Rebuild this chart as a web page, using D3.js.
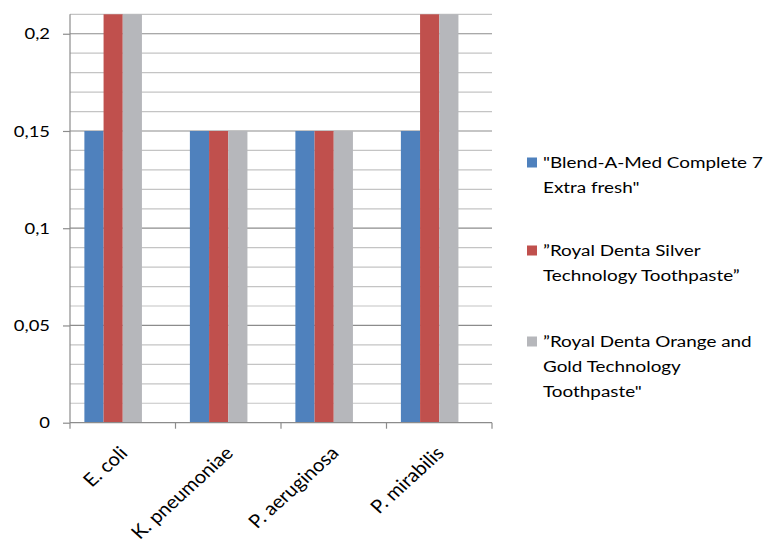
<!DOCTYPE html>
<html>
<head>
<meta charset="utf-8">
<script src="https://cdn.jsdelivr.net/npm/d3@7"></script>
<style>
  html, body { margin: 0; padding: 0; background: #fff; }
  svg { display: block; font-family: Lato, "Open Sans", sans-serif; }
</style>
</head>
<body>
<svg id="chart" width="765" height="539"></svg>
<script>
// Bacteria tested
const categories = ["E. coli", "K. pneumoniae", "P. aeruginosa", "P. mirabilis"];

// Legend text, wrapped lines per toothpaste
const legendLines = [
  ["\"Blend-A-Med Complete 7", "Extra fresh\""],
  ["\u201DRoyal Denta Silver", "Technology Toothpaste\u201D"],
  ["\u201DRoyal Denta Orange and", "Gold Technology", "Toothpaste\""]
];

// Values per toothpaste, one per bacterium
const blendAMed = [0.15, 0.15, 0.15, 0.15];
const silver    = [0.21, 0.15, 0.15, 0.21];
const orangeGold = [0.21, 0.15, 0.15, 0.21];
const seriesValues = [blendAMed, silver, orangeGold];

const colors = ["#4F81BD", "#C0504D", "#B6B7BB"];

// Axis ticks
const yMax = 0.21;
const majorTicks = [0, 0.05, 0.1, 0.15, 0.2];
const minorTicks = d3.range(0, 22).map(i => +(i * 0.01).toFixed(2));

const svg = d3.select("#chart");
const plot = { left: 70, right: 492, top: 14.3, bottom: 422.7 };
const stretch = 1.15; // text is drawn slightly wide

const x = d3.scaleBand().domain(categories).range([plot.left, plot.right]).padding(0);
const bw = x.bandwidth();
const x1 = d3.scaleBand().domain(d3.range(seriesValues.length))
  .range([0, bw]).paddingInner(0).paddingOuter(1.25).align(0.3);
const y = d3.scaleLinear().domain([0, yMax]).range([plot.bottom, plot.top]);

// Minor gridlines
svg.append("g").selectAll("line").data(minorTicks.filter(t => !majorTicks.includes(t)))
  .join("line")
  .attr("x1", plot.left).attr("x2", plot.right)
  .attr("y1", d => y(d)).attr("y2", d => y(d))
  .attr("stroke", "#c4c4c4").attr("stroke-width", 1.2);

// Major gridlines
svg.append("g").selectAll("line").data(majorTicks.filter(t => t > 0))
  .join("line")
  .attr("x1", plot.left).attr("x2", plot.right)
  .attr("y1", d => y(d)).attr("y2", d => y(d))
  .attr("stroke", "#8c8c8c").attr("stroke-width", 1.2);

// Bars
const groups = svg.append("g").selectAll("g").data(seriesValues).join("g")
  .attr("fill", (d, i) => colors[i]);
groups.selectAll("rect").data((vals, si) => vals.map((v, ci) => ({ v, si, ci })))
  .join("rect")
  .attr("x", d => x(categories[d.ci]) + x1(d.si))
  .attr("width", x1.bandwidth())
  .attr("y", d => y(d.v))
  .attr("height", d => y(0) - y(d.v));

// Y axis
const yAxis = d3.axisLeft(y).tickValues(majorTicks).tickSize(7).tickPadding(13)
  .tickFormat(d => String(d).replace(".", ","));
const gy = svg.append("g").attr("transform", `translate(${plot.left},0)`).call(yAxis);
gy.select(".domain").attr("stroke", "#8c8c8c").attr("stroke-width", 1.2)
  .attr("d", `M0,${plot.top}V${plot.bottom}`);
gy.selectAll(".tick line").attr("stroke", "#8c8c8c").attr("stroke-width", 1.2);
gy.selectAll(".tick text").attr("fill", "#000")
  .attr("x", 0).attr("transform", `translate(-20,0) scale(${stretch},1)`)
  .style("font-size", "16px")
  .style("font-family", "Lato, sans-serif");

// X axis
const boundaries = categories.map(c => x(c)).concat([plot.right]);
svg.append("line").attr("x1", plot.left).attr("x2", plot.right)
  .attr("y1", plot.bottom).attr("y2", plot.bottom)
  .attr("stroke", "#8c8c8c").attr("stroke-width", 1.2);
svg.append("g").selectAll("line").data(boundaries).join("line")
  .attr("x1", d => d).attr("x2", d => d)
  .attr("y1", plot.bottom).attr("y2", plot.bottom + 6)
  .attr("stroke", "#8c8c8c").attr("stroke-width", 1.2);

svg.append("g").selectAll("text").data(categories).join("text")
  .attr("transform", d => `translate(${x(d) + bw / 2 + 1},${plot.bottom + 27}) scale(1.1,1) rotate(-45)`)
  .attr("text-anchor", "end")
  .attr("dy", "0.35em")
  .style("font-size", "18.5px")
  .text(d => d);

// Legend
const legendTop = [162, 250, 341];
const leg = svg.append("g").selectAll("g").data(legendLines).join("g")
  .attr("transform", (d, i) => `translate(527,${legendTop[i]})`);
leg.append("rect").attr("x", 0).attr("y", -4.5).attr("width", 10).attr("height", 10)
  .attr("fill", (d, i) => colors[i]);
leg.append("text")
  .attr("transform", `translate(16,0) scale(1.18,1)`)
  .style("font-size", "16px")
  .selectAll("tspan").data(d => d).join("tspan")
  .attr("x", 0).attr("dy", (d, i) => i === 0 ? "0.35em" : "25px")
  .text(d => d);
</script>
</body>
</html>
